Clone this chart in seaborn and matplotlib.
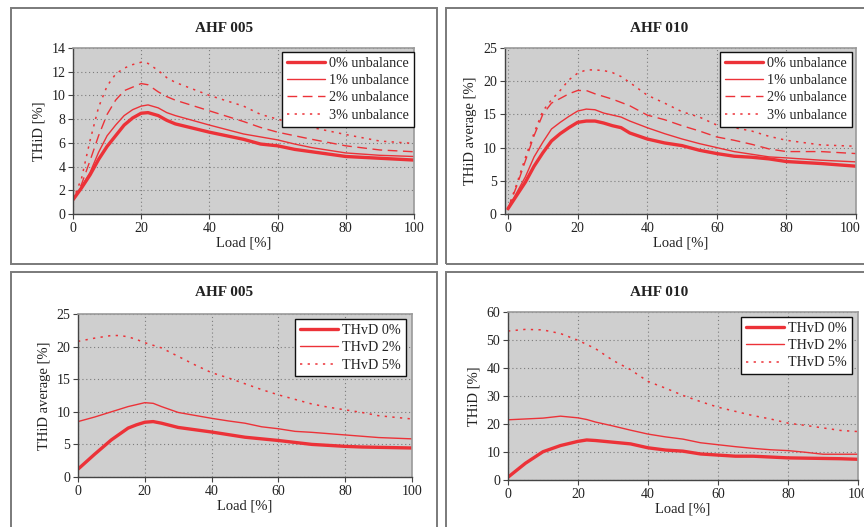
import numpy as np
import pandas as pd
import seaborn as sns
import matplotlib.pyplot as plt
from matplotlib.patches import Rectangle
from matplotlib.transforms import ScaledTranslation

sns.set_theme(style="ticks")
plt.rcParams['font.family'] = ['Liberation Serif', 'DejaVu Serif']

RED = '#ec3238'
BG = '#cfcfcf'

# top left - AHF 005, unbalance
x_tl = [0, 2.5, 5, 7.5, 10, 12.5, 15, 17.5, 20, 22, 25, 27.5, 30, 40, 50, 55, 60, 65, 70, 80, 90, 100]
tl_0 = [1.2, 2.2, 3.3, 4.6, 5.7, 6.6, 7.5, 8.1, 8.5, 8.55, 8.3, 7.9, 7.6, 6.9, 6.3, 5.9, 5.75, 5.45, 5.25, 4.85, 4.7, 4.55]
tl_1 = [1.2, 2.3, 3.5, 5.2, 6.6, 7.5, 8.3, 8.8, 9.1, 9.2, 8.95, 8.55, 8.3, 7.5, 6.75, 6.5, 6.25, 5.9, 5.6, 5.15, 4.95, 4.85]
tl_2 = [1.2, 2.5, 4.5, 6.6, 8.4, 9.6, 10.4, 10.7, 11.0, 10.9, 10.3, 9.9, 9.6, 8.7, 7.8, 7.3, 6.9, 6.6, 6.3, 5.75, 5.4, 5.25]
tl_3 = [1.2, 3.0, 6.2, 9.0, 10.8, 11.8, 12.3, 12.6, 12.8, 12.7, 12.1, 11.5, 11.1, 10.0, 9.1, 8.4, 8.0, 7.6, 7.3, 6.7, 6.15, 5.95]

# top right - AHF 010, unbalance
x_tr = [0, 2.5, 5, 7.5, 10, 12.5, 15, 17.5, 20, 22.5, 25, 27.5, 30, 32.5, 35, 40, 45, 50, 55, 60, 65, 70, 75, 80, 90, 100]
tr_0 = [0.8, 2.8, 4.8, 7.2, 9.2, 11.0, 12.1, 13.0, 13.8, 14.0, 14.0, 13.7, 13.3, 13.0, 12.2, 11.3, 10.7, 10.3, 9.6, 9.1, 8.7, 8.55, 8.3, 7.9, 7.6, 7.2]
tr_1 = [0.8, 3.2, 5.6, 8.6, 10.8, 12.8, 13.8, 14.7, 15.5, 15.8, 15.7, 15.2, 14.9, 14.6, 14.0, 13.0, 12.1, 11.3, 10.6, 10.0, 9.4, 9.0, 8.6, 8.45, 8.1, 7.85]
tr_2 = [0.8, 4.2, 8.0, 11.8, 15.0, 16.7, 17.4, 18.1, 18.6, 18.6, 18.1, 17.7, 17.3, 16.8, 16.3, 14.9, 14.2, 13.3, 12.5, 11.6, 11.1, 10.5, 9.8, 9.4, 9.4, 9.1]
tr_3 = [0.8, 4.5, 8.5, 12.2, 15.5, 17.2, 18.6, 20.2, 21.2, 21.7, 21.7, 21.6, 21.3, 20.7, 19.8, 17.9, 16.7, 15.4, 14.6, 13.4, 13.0, 12.5, 11.7, 11.1, 10.4, 10.2]

# bottom left - AHF 005, THvD
x_bl = [0, 5, 10, 12.5, 15, 17.5, 20, 22.5, 25, 30, 35, 40, 45, 50, 55, 60, 65, 70, 75, 80, 85, 90, 100]
bl_0 = [1.2, 3.5, 5.7, 6.6, 7.5, 8.0, 8.4, 8.5, 8.25, 7.6, 7.25, 6.9, 6.5, 6.1, 5.85, 5.6, 5.3, 5.0, 4.85, 4.7, 4.6, 4.55, 4.45]
bl_2 = [8.5, 9.2, 10.0, 10.4, 10.8, 11.1, 11.4, 11.3, 10.8, 9.9, 9.45, 9.0, 8.6, 8.25, 7.7, 7.4, 7.0, 6.85, 6.65, 6.45, 6.25, 6.05, 5.85]
bl_5 = [20.8, 21.3, 21.7, 21.7, 21.5, 21.1, 20.6, 20.2, 19.8, 18.5, 17.2, 16.0, 15.2, 14.3, 13.4, 12.6, 11.9, 11.2, 10.7, 10.3, 9.9, 9.4, 8.9]

# bottom right - AHF 010, THvD
x_br = [0, 5, 10, 15, 20, 22.5, 25, 30, 35, 40, 45, 50, 55, 60, 65, 70, 75, 80, 85, 90, 95, 100]
br_0 = [1.0, 6.0, 10.1, 12.3, 13.8, 14.3, 14.1, 13.5, 12.9, 11.5, 10.7, 10.3, 9.3, 8.9, 8.5, 8.5, 8.2, 7.9, 7.8, 7.7, 7.6, 7.4]
br_2 = [21.5, 21.8, 22.1, 22.8, 22.2, 21.6, 20.7, 19.3, 17.8, 16.4, 15.4, 14.6, 13.3, 12.6, 11.9, 11.3, 10.8, 10.5, 9.9, 9.2, 9.2, 9.2]
br_5 = [53.2, 53.8, 53.6, 52.3, 49.9, 48.4, 46.9, 42.7, 39.4, 35.2, 32.8, 30.2, 28.0, 26.0, 24.5, 23.0, 21.8, 20.3, 19.5, 18.6, 17.7, 17.3]

unb_labels = ['0% unbalance', '1% unbalance', '2% unbalance', '3% unbalance']
thvd_labels = ['THvD 0%', 'THvD 2%', 'THvD 5%']

thick = dict(lw=2.4, ls='-')
thin = dict(lw=1.0, ls='-')
dash = dict(lw=1.0, ls=(0, (7, 4)))
dot = dict(lw=1.1, ls=(0, (1.5, 3.5)))

W, H = 864, 527
fig = plt.figure(figsize=(W / 100, H / 100), dpi=100)


def px_axes(x0, x1, y0, y1):
    # pixel box -> figure axes
    return fig.add_axes([x0 / W, 1 - y1 / H, (x1 - x0) / W, (y1 - y0) / H])


def box(x0, y0, x1, y1, title, ty):
    fig.patches.append(Rectangle((x0 / W, 1 - y1 / H), (x1 - x0) / W, (y1 - y0) / H,
                                 transform=fig.transFigure, fill=False,
                                 edgecolor='#7a7a7a', lw=1.4, zorder=0))
    fig.text((x0 + x1) / 2 / W, 1 - ty / H, title, ha='center', va='center',
             fontsize=11, fontweight='bold', color='#222222')


def style_axes(ax, xlim, ylim, yticks, ylabel, anchor):
    ax.set_facecolor(BG)
    ax.set_xlim(*xlim)
    ax.set_ylim(*ylim)
    ax.set_xticks([0, 20, 40, 60, 80, 100])
    ax.set_yticks(yticks)
    ax.grid(True, color='#7c7c7c', ls=(0, (1, 2.5)), lw=0.8)
    for s in ['top', 'right']:
        ax.spines[s].set_color('#9a9a9a')
        ax.spines[s].set_linewidth(1.2)
    for s in ['left', 'bottom']:
        ax.spines[s].set_color('#444444')
        ax.spines[s].set_linewidth(1.0)
    ax.tick_params(direction='out', length=3.5, width=0.8, color='#444444',
                   labelsize=10, pad=2, labelcolor='#222222')
    ax.set_xlabel('Load [%]', fontsize=10.5, labelpad=1, color='#222222')
    ax.set_ylabel(ylabel, fontsize=10.5, labelpad=4, color='#222222')
    leg = ax.legend(loc='upper right', bbox_to_anchor=anchor, fontsize=10.2,
                    handlelength=2.7, frameon=True, fancybox=False,
                    borderaxespad=0, labelspacing=0.3, borderpad=0.35,
                    handletextpad=0.3)
    leg.get_frame().set_edgecolor('#111111')
    leg.get_frame().set_linewidth(1.0)
    leg.get_frame().set_facecolor('white')
    leg.get_frame().set_alpha(1)


def draw(ax, x, series, labels, styles):
    for y, lab, st in zip(series, labels, styles):
        sns.lineplot(x=x, y=y, ax=ax, color=RED, label=lab, **st)


# panel frames
box(11, 8, 437, 264, 'AHF 005', 29)
box(446, 8, 872, 264, 'AHF 010', 29)
box(11, 272, 437, 540, 'AHF 005', 293)
box(446, 272, 872, 540, 'AHF 010', 293)

ax1 = px_axes(73, 414, 48, 214)
draw(ax1, x_tl, [tl_0, tl_1, tl_2, tl_3], unb_labels, [thick, thin, dash, dot])
style_axes(ax1, (0, 100), (0, 14), np.arange(0, 15, 2), 'THiD [%]', (1.0, 0.976))

ax2 = px_axes(504.5, 856, 48, 214)
draw(ax2, x_tr, [tr_0, tr_1, tr_2, tr_3], unb_labels, [thick, thin, dash, dot])
style_axes(ax2, (-1, 100), (0, 25), np.arange(0, 26, 5), 'THiD average [%]', (0.989, 0.976))
# the last tick label sits a little left of its tick in the reference
lab100 = ax2.get_xticklabels()[-1]
lab100.set_transform(lab100.get_transform() + ScaledTranslation(-6 / 100, 0, fig.dpi_scale_trans))

ax3 = px_axes(78, 412, 314, 477)
draw(ax3, x_bl, [bl_0, bl_2, bl_5], thvd_labels, [thick, thin, dot])
style_axes(ax3, (0, 100), (0, 25), np.arange(0, 26, 5), 'THiD average [%]', (0.982, 0.969))

ax4 = px_axes(508, 858, 312, 480)
draw(ax4, x_br, [br_0, br_2, br_5], thvd_labels, [thick, thin, dot])
style_axes(ax4, (0, 100), (0, 60), np.arange(0, 61, 10), 'THiD [%]', (0.983, 0.97))

fig.savefig('out.png', dpi=100)
